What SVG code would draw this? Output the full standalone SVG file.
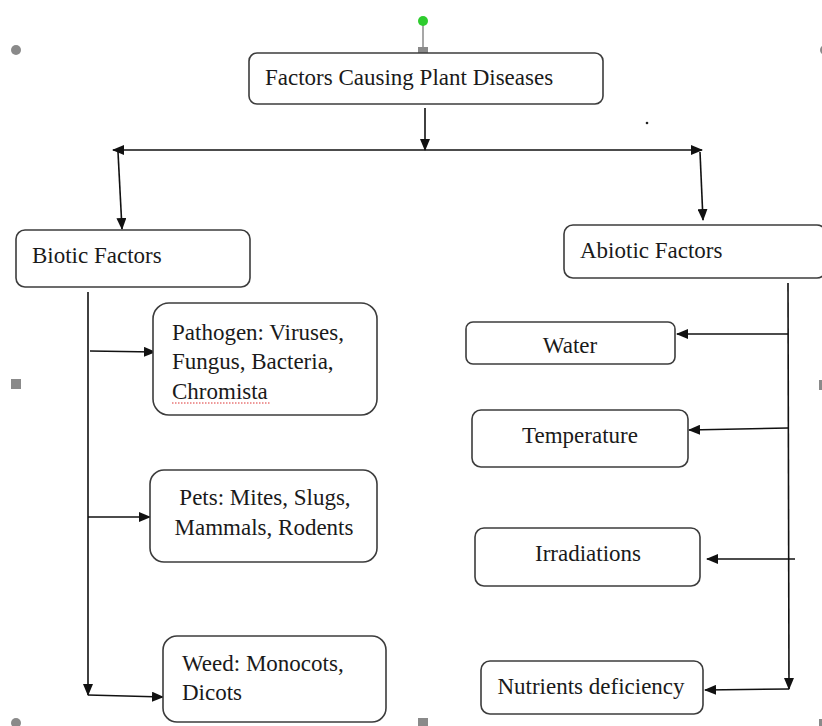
<svg xmlns="http://www.w3.org/2000/svg" width="822" height="726" viewBox="0 0 822 726">
<style>
.box{fill:#fff;stroke:#3c3c3c;stroke-width:1.6}
text{font-family:'Liberation Serif','Tinos','DejaVu Serif',serif;font-size:23px;fill:#1a1a1a}
.c{text-anchor:middle}
.ln{fill:none;stroke:#111;stroke-width:1.6}
.h{fill:#8a8a8a}
</style>
<defs>
<marker id="ah" markerUnits="userSpaceOnUse" markerWidth="12" markerHeight="10" refX="11" refY="5" orient="auto-start-reverse">
<path d="M0,0 L12,5 L0,10 Z" fill="#111"/>
</marker>
</defs>
<rect width="822" height="726" fill="#fff"/>
<g id="handles">
<line x1="423" y1="25" x2="423" y2="48" stroke="#8a8a8a" stroke-width="1.5"/>
<circle cx="423" cy="21" r="5" fill="#2ecc2e"/>
<rect class="h" x="418" y="47" width="10" height="10"/>
<circle class="h" cx="16" cy="50" r="5"/>
<circle class="h" cx="825" cy="50" r="5"/>
<rect class="h" x="11" y="379" width="10" height="10"/>
<rect class="h" x="819" y="380" width="10" height="10"/>
<circle class="h" cx="16" cy="723" r="5"/>
<rect class="h" x="418" y="718" width="10" height="10"/>
<rect class="h" x="819" y="719" width="10" height="10"/>
<circle cx="647" cy="123" r="1.3" fill="#222"/>
</g>
<g id="connectors">
<line class="ln" x1="425" y1="108" x2="425" y2="150" marker-end="url(#ah)"/>
<line class="ln" x1="113" y1="150" x2="702" y2="150" marker-start="url(#ah)" marker-end="url(#ah)"/>
<line class="ln" x1="118" y1="152" x2="122" y2="229" marker-end="url(#ah)"/>
<line class="ln" x1="700" y1="152" x2="703" y2="220" marker-end="url(#ah)"/>
<line class="ln" x1="88" y1="292" x2="88" y2="695" marker-end="url(#ah)"/>
<line class="ln" x1="88" y1="695" x2="163" y2="697" marker-end="url(#ah)"/>
<line class="ln" x1="90" y1="351" x2="155" y2="352" marker-end="url(#ah)"/>
<line class="ln" x1="88" y1="517" x2="150" y2="517" marker-end="url(#ah)"/>
<line class="ln" x1="788" y1="283" x2="789" y2="689" marker-end="url(#ah)"/>
<line class="ln" x1="789" y1="689" x2="705" y2="690" marker-end="url(#ah)"/>
<line class="ln" x1="788" y1="334" x2="677" y2="334" marker-end="url(#ah)"/>
<line class="ln" x1="788" y1="428" x2="689" y2="430" marker-end="url(#ah)"/>
<line class="ln" x1="795" y1="559" x2="707" y2="559" marker-end="url(#ah)"/>
</g>
<g id="root">
<rect class="box" x="249" y="53" width="354" height="51" rx="8"/>
<text x="265" y="85">Factors Causing Plant Diseases</text>
</g>
<g id="biotic">
<rect class="box" x="16" y="230" width="234" height="57" rx="9"/>
<text x="32" y="263">Biotic Factors</text>
</g>
<g id="abiotic">
<rect class="box" x="564" y="225" width="262" height="53" rx="9"/>
<text x="580" y="258">Abiotic Factors</text>
</g>
<g id="pathogen">
<rect class="box" x="153" y="303" width="224" height="112" rx="16"/>
<text x="172" y="340">Pathogen: Viruses,</text>
<text x="172" y="369">Fungus, Bacteria,</text>
<text x="172" y="399">Chromista</text>
<line x1="172" y1="403" x2="270" y2="403" stroke="#d33" stroke-width="1" stroke-dasharray="1.5,1.5"/>
</g>
<g id="pets">
<rect class="box" x="150" y="470" width="227" height="92" rx="14"/>
<text class="c" x="265" y="505">Pets: Mites, Slugs,</text>
<text class="c" x="264" y="535">Mammals, Rodents</text>
</g>
<g id="weed">
<rect class="box" x="163" y="636" width="223" height="86" rx="14"/>
<text x="182" y="671">Weed: Monocots,</text>
<text x="182" y="700">Dicots</text>
</g>
<g id="water">
<rect class="box" x="466" y="322" width="209" height="42" rx="7"/>
<text class="c" x="570" y="353">Water</text>
</g>
<g id="temperature">
<rect class="box" x="472" y="410" width="216" height="57" rx="9"/>
<text class="c" x="580" y="443">Temperature</text>
</g>
<g id="irradiations">
<rect class="box" x="475" y="528" width="225" height="58" rx="9"/>
<text class="c" x="588" y="561">Irradiations</text>
</g>
<g id="nutrients">
<rect class="box" x="481" y="661" width="222" height="53" rx="9"/>
<text class="c" x="591" y="694">Nutrients deficiency</text>
</g>
</svg>
